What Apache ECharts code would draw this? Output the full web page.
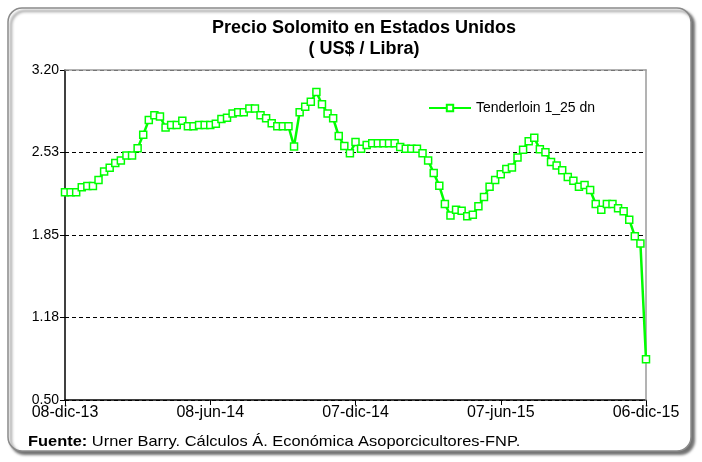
<!DOCTYPE html>
<html><head><meta charset="utf-8">
<script src="https://cdn.jsdelivr.net/npm/echarts@6/dist/echarts.min.js"></script>
<style>html,body{margin:0;padding:0;background:#fff}#c{width:702px;height:462px}</style>
</head><body><div id="c"></div><script>
const titleLines = ['Precio Solomito en Estados Unidos', '( US$ / Libra)'];
const seriesName = 'Tenderloin 1_25 dn';
const startDate = [2013, 11, 8]; // 08-dic-13, weekly observations
const monthNames = ['ene','feb','mar','abr','may','jun','jul','ago','sep','oct','nov','dic'];
const tickLabels = ['08-dic-13','08-jun-14','07-dic-14','07-jun-15','06-dic-15'];
const yMin = 0.50, yMax = 3.20, yStep = 0.675;
const tenderloin = [
  2.20, 2.20, 2.20, 2.24, 2.25, 2.25, 2.30, 2.37, 2.40, 2.44,
  2.46, 2.50, 2.50, 2.56, 2.67, 2.79, 2.83, 2.82, 2.73, 2.75,
  2.75, 2.785, 2.74, 2.74, 2.75, 2.75, 2.75, 2.76, 2.80, 2.81,
  2.845, 2.855, 2.855, 2.885, 2.885, 2.83, 2.805, 2.765, 2.74, 2.74,
  2.74, 2.575, 2.855, 2.90, 2.94, 3.02, 2.92, 2.845, 2.805, 2.66,
  2.578, 2.518, 2.61, 2.555, 2.586, 2.60, 2.60, 2.60, 2.60, 2.60,
  2.57, 2.555, 2.555, 2.555, 2.518, 2.46, 2.357, 2.252, 2.104, 2.01,
  2.057, 2.048, 2.004, 2.016, 2.085, 2.16, 2.245, 2.30, 2.348, 2.39,
  2.403, 2.485, 2.548, 2.617, 2.645, 2.552, 2.528, 2.448, 2.418, 2.379,
  2.325, 2.294, 2.245, 2.259, 2.218, 2.103, 2.057, 2.104, 2.104, 2.068,
  2.045, 1.975, 1.84, 1.78, 0.833
];
const footerBold = 'Fuente:';
const footerText = ' Urner Barry. Cálculos Á. Económica Asoporcicultores-FNP.';

const categories = tenderloin.map((_, i) => {
  const d = new Date(Date.UTC(startDate[0], startDate[1], startDate[2] + 7 * i));
  const dd = String(d.getUTCDate()).padStart(2, '0');
  const yy = String(d.getUTCFullYear()).slice(2);
  return dd + '-' + monthNames[d.getUTCMonth()] + '-' + yy;
});

const FF = '"Liberation Sans", Arial, sans-serif';
const chart = echarts.init(document.getElementById('c'), null, {renderer: 'canvas'});
chart.setOption({
  animation: false,
  backgroundColor: '#fff',
  textStyle: {fontFamily: FF},
  graphic: [
    {type: 'rect', z: -10, silent: true,
     shape: {x: 8, y: 8, width: 683, height: 443, r: 14},
     style: {fill: '#fff', stroke: '#8a8a8a', lineWidth: 1.5,
             shadowBlur: 3, shadowOffsetX: 3, shadowOffsetY: 3, shadowColor: 'rgba(0,0,0,0.55)'}},
    {type: 'text', x: 28, y: 434, scaleX: 1.095, z: 10,
     style: {text: '{b|' + footerBold + '}' + footerText, fontSize: 15, fontFamily: FF, fill: '#000',
             rich: {b: {fontWeight: 'bold', fontSize: 15, fontFamily: FF}}}}
  ],
  title: {
    text: titleLines.join('\n'), left: 359, top: 13, textAlign: 'center',
    textStyle: {fontSize: 18, fontWeight: 'bold', fontFamily: FF, color: '#000', lineHeight: 21}
  },
  legend: {
    show: true, left: 423, top: 96, itemWidth: 42, itemHeight: 8,
    textStyle: {fontSize: 14, fontFamily: FF, color: '#000'},
    data: [seriesName]
  },
  grid: {left: 65, right: 56, top: 70, bottom: 62, containLabel: false},
  xAxis: [{
    type: 'category', data: categories, boundaryGap: false,
    axisLine: {lineStyle: {color: '#000', width: 1.5}},
    axisTick: {show: true, interval: 25, length: 5, lineStyle: {color: '#000'}},
    axisLabel: {interval: 25, fontSize: 16, fontFamily: FF, color: '#000', margin: 5,
      formatter: v => tickLabels.includes(v) ? v : ''},
    splitLine: {show: false}
  }, {
    type: 'category', data: categories, boundaryGap: false, position: 'top', z: 3,
    axisLine: {lineStyle: {color: '#9a9a9a', width: 1.5}},
    axisTick: {show: false}, axisLabel: {show: false}
  }],
  yAxis: [{
    type: 'value', min: yMin, max: yMax, interval: yStep,
    axisLine: {show: true, lineStyle: {color: '#000', width: 1.5}},
    axisTick: {show: true, length: 5, lineStyle: {color: '#000'}},
    axisLabel: {fontSize: 14, fontFamily: FF, color: '#000', margin: 6,
      formatter: v => (Math.round(v * 100 + 0.001) / 100).toFixed(2)},
    splitLine: {show: true, lineStyle: {color: '#000', type: [4, 3], width: 1}}
  }, {
    type: 'value', min: yMin, max: yMax, interval: yStep, position: 'right', z: 3,
    axisLine: {show: true, lineStyle: {color: '#9a9a9a', width: 1.5}},
    axisTick: {show: false}, axisLabel: {show: false}, splitLine: {show: false}
  }],
  series: [{
    name: seriesName, type: 'line', data: tenderloin, xAxisIndex: 0, yAxisIndex: 0,
    symbol: 'rect', symbolSize: 7, showAllSymbol: true, z: 5,
    lineStyle: {color: '#00ff00', width: 2.5},
    itemStyle: {color: '#ffffff', borderColor: '#00ff00', borderWidth: 1.5}
  }]
});
</script></body></html>
